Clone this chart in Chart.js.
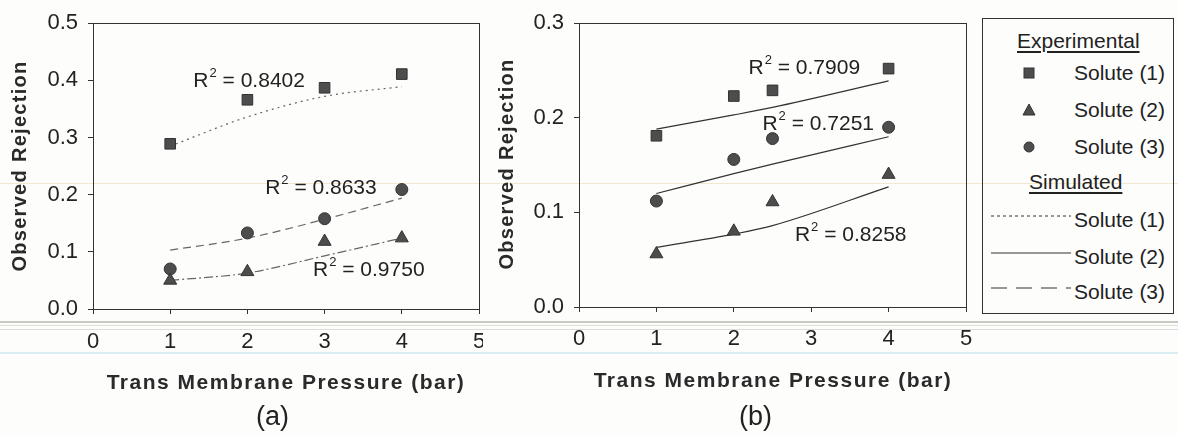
<!DOCTYPE html>
<html>
<head>
<meta charset="utf-8">
<script src="https://cdn.jsdelivr.net/npm/chart.js@4.4.1/dist/chart.umd.min.js"></script>
<style>
  body { margin: 0; background: #fdfdfc; font-family: "Liberation Sans", Arial, sans-serif; }
  #page { position: relative; width: 1178px; height: 435px; overflow: hidden; }
  .scan { position: absolute; left: 0; width: 1178px; }
  .wrap { position: absolute; top: 0; height: 435px; overflow: hidden; }
  .box { position: absolute; top: 0; left: 0; width: 490px; height: 435px; }
  .panel { position: absolute; top: 401px; font-size: 27px; color: #222; }
  .xtitle { position: absolute; width: 400px; text-align: center; font-size: 21px; font-weight: bold; letter-spacing: 1.5px; color: #2a2a2a; line-height: 24px; }
  .ytitle { position: absolute; width: 300px; text-align: center; font-size: 20px; font-weight: bold; letter-spacing: 1.3px; color: #2a2a2a; line-height: 24px; transform: rotate(-90deg); }
  #legend { position: absolute; left: 982px; top: 18px; width: 190px; height: 294px; border: 1px solid #333; color: #222; font-size: 21px; }
  #legend div { position: absolute; white-space: nowrap; }
  #legend .head { text-decoration: underline; text-underline-offset: 3px; }
  #legend svg { position: absolute; }
</style>
</head>
<body>
<div id="page">
  <div class="scan" style="top:183px;height:1px;background:#f1e9cf"></div>
  <div class="scan" style="top:321px;height:2px;background:#c9c9c4"></div>
  <div class="scan" style="top:325px;height:1px;background:#e2ddcc"></div>
  <div class="scan" style="top:329px;height:1px;background:#dcdcdc"></div>
  <div class="scan" style="top:352px;height:2px;background:#d8ecf2"></div>

  <div class="wrap" style="left:0;width:483px"><div class="box"><canvas id="chartA"></canvas></div></div>
  <div class="wrap" style="left:486px;width:490px"><div class="box"><canvas id="chartB"></canvas></div></div>

  <div class="ytitle" style="left:-131px;top:154px">Observed Rejection</div>
  <div class="ytitle" style="left:356px;top:152px">Observed Rejection</div>
  <div class="xtitle" style="left:86px;top:370px">Trans Membrane Pressure (bar)</div>
  <div class="xtitle" style="left:573px;top:368px">Trans Membrane Pressure (bar)</div>
  <div class="panel" style="left:256px">(a)</div>
  <div class="panel" style="left:739px">(b)</div>

  <div id="legend">
    <div class="head" style="left:34px;top:10px">Experimental</div>
    <svg style="left:40px;top:48px" width="12" height="12"><rect x="1" y="1" width="10" height="10" fill="#4d4d4d" stroke="#333"/></svg>
    <div style="left:91px;top:42px">Solute (1)</div>
    <svg style="left:39px;top:84px" width="14" height="13"><polygon points="7,1 13,12 1,12" fill="#4d4d4d" stroke="#333"/></svg>
    <div style="left:91px;top:79px">Solute (2)</div>
    <svg style="left:40px;top:122px" width="12" height="12"><circle cx="6" cy="6" r="5" fill="#4d4d4d" stroke="#333"/></svg>
    <div style="left:91px;top:116px">Solute (3)</div>
    <div class="head" style="left:46px;top:151px">Simulated</div>
    <svg style="left:8px;top:195px" width="80" height="4"><line x1="0" y1="2" x2="80" y2="2" stroke="#333" stroke-width="1" stroke-dasharray="3,3"/></svg>
    <div style="left:91px;top:189px">Solute (1)</div>
    <svg style="left:8px;top:232px" width="80" height="4"><line x1="0" y1="2" x2="80" y2="2" stroke="#333" stroke-width="1.2"/></svg>
    <div style="left:91px;top:226px">Solute (2)</div>
    <svg style="left:8px;top:267px" width="80" height="4"><line x1="0" y1="2" x2="80" y2="2" stroke="#333" stroke-width="1.2" stroke-dasharray="16,9"/></svg>
    <div style="left:91px;top:261px">Solute (3)</div>
  </div>
</div>

<script>
// (a) measured and simulated rejection
const pressureA = [1, 2, 3, 4];
const expA1 = [0.289, 0.366, 0.387, 0.411];
const expA2 = [0.050, 0.065, 0.118, 0.124];
const expA3 = [0.070, 0.133, 0.158, 0.209];
const simA1 = [0.285, 0.336, 0.372, 0.389];
const simA2 = [0.050, 0.063, 0.093, 0.124];
const simA3 = [0.103, 0.124, 0.157, 0.194];
const r2A = ['0.8402', '0.8633', '0.9750'];

// (b)
const pressureB = [1, 2, 2.5, 4];
const expB1 = [0.181, 0.223, 0.229, 0.252];
const expB2 = [0.056, 0.080, 0.111, 0.140];
const expB3 = [0.112, 0.156, 0.178, 0.190];
const simB1 = [0.188, 0.203, 0.211, 0.239];
const simB2 = [0.063, 0.077, 0.086, 0.127];
const simB3 = [0.120, 0.141, 0.151, 0.180];
const r2B = ['0.7909', '0.7251', '0.8258'];

const xTicks = [0, 1, 2, 3, 4, 5];

Chart.defaults.font.family = '"Liberation Sans", Arial, sans-serif';
Chart.defaults.color = '#222';

const pts = (xs, ys) => xs.map((x, i) => ({x: x, y: ys[i]}));

// box around the plot area
const frame = {
  id: 'frame',
  afterDraw(chart) {
    const a = chart.chartArea, ctx = chart.ctx;
    ctx.save();
    ctx.strokeStyle = '#333';
    ctx.lineWidth = 1;
    ctx.strokeRect(Math.round(a.left) + 0.5, Math.round(a.top) + 0.5, Math.round(a.right - a.left), Math.round(a.bottom - a.top));
    ctx.restore();
  }
};

// R^2 = ... labels
const r2labels = {
  id: 'r2labels',
  afterDatasetsDraw(chart, args, opts) {
    const ctx = chart.ctx, xs = chart.scales.x, ys = chart.scales.y;
    ctx.save();
    ctx.fillStyle = '#222';
    ctx.textBaseline = 'middle';
    ctx.textAlign = 'left';
    opts.items.forEach(it => {
      let px = xs.getPixelForValue(it.x), py = ys.getPixelForValue(it.y);
      ctx.font = '21px "Liberation Sans", Arial';
      ctx.fillText('R', px, py);
      px += ctx.measureText('R').width + 1;
      ctx.font = '13px "Liberation Sans", Arial';
      ctx.fillText('2', px, py - 8);
      px += ctx.measureText('2').width;
      ctx.font = '21px "Liberation Sans", Arial';
      ctx.fillText(' = ' + it.text, px, py);
    });
    ctx.restore();
  }
};

function expSet(xs, ys, style, r) {
  return {data: pts(xs, ys), showLine: false, pointStyle: style, pointRadius: r,
    pointBackgroundColor: '#4d4d4d', pointBorderColor: '#333', pointBorderWidth: 1};
}
function simSet(xs, ys, dash, color) {
  return {data: pts(xs, ys), showLine: true, pointRadius: 0, borderColor: color, borderWidth: 1.2,
    borderDash: dash, tension: 0.35, cubicInterpolationMode: 'monotone'};
}

function makeChart(id, datasets, ymax, top, axisH, tickPad, rightPad, labels) {
  return new Chart(document.getElementById(id), {
    type: 'scatter',
    data: {datasets: datasets},
    plugins: [frame, r2labels],
    options: {
      responsive: true,
      maintainAspectRatio: false,
      animation: false,
      layout: {padding: {top: top, right: rightPad, left: 0, bottom: 0}},
      plugins: {legend: {display: false}, tooltip: {enabled: false}, r2labels: {items: labels}},
      scales: {
        x: {
          type: 'linear', min: 0, max: 5,
          afterBuildTicks: s => { s.ticks = xTicks.map(v => ({value: v})); },
          ticks: {font: {size: 22}, color: '#222', padding: tickPad, maxRotation: 0},
          grid: {drawOnChartArea: false, tickLength: 5, color: '#333'},
          border: {color: '#333', width: 1},
          afterFit: s => { s.height = axisH; s.paddingLeft = 0; s.paddingRight = 0; }
        },
        y: {
          min: 0, max: ymax,
          ticks: {stepSize: 0.1, font: {size: 22}, color: '#222', padding: 10, callback: v => v.toFixed(1)},
          grid: {drawOnChartArea: false, tickLength: 5, color: '#333'},
          border: {color: '#333', width: 1},
          afterFit: s => { s.width = 93; }
        }
      }
    }
  });
}

makeChart('chartA', [
  expSet(pressureA, expA1, 'rect', 7.5),
  expSet(pressureA, expA2, 'triangle', 7.5),
  expSet(pressureA, expA3, 'circle', 6),
  simSet(pressureA, simA1, [2, 4], '#666'),
  simSet(pressureA, simA2, [9, 3, 2, 3], '#666'),
  simSet(pressureA, simA3, [8, 5], '#666')
], 0.5, 20, 126, 15, 11, [
  {x: 1.30, y: 0.398, text: r2A[0]},
  {x: 2.23, y: 0.211, text: r2A[1]},
  {x: 2.85, y: 0.0675, text: r2A[2]}
]);

makeChart('chartB', [
  expSet(pressureB, expB1, 'rect', 7.5),
  expSet(pressureB, expB2, 'triangle', 7.5),
  expSet(pressureB, expB3, 'circle', 6),
  simSet(pressureB, simB1, [], '#333'),
  simSet(pressureB, simB2, [], '#333'),
  simSet(pressureB, simB3, [], '#333')
], 0.3, 21, 128, 14, 10, [
  {x: 2.19, y: 0.252, text: r2B[0]},
  {x: 2.37, y: 0.193, text: r2B[1]},
  {x: 2.79, y: 0.0755, text: r2B[2]}
]);
</script>
</body>
</html>
